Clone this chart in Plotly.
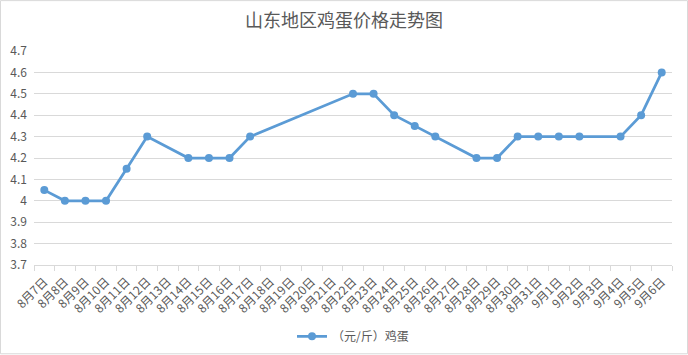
import plotly.graph_objects as go

categories = ["8月7日", "8月8日", "8月9日", "8月10日", "8月11日", "8月12日", "8月13日", "8月14日",
              "8月15日", "8月16日", "8月17日", "8月18日", "8月19日", "8月20日", "8月21日", "8月22日",
              "8月23日", "8月24日", "8月25日", "8月26日", "8月27日", "8月28日", "8月29日", "8月30日",
              "8月31日", "9月1日", "9月2日", "9月3日", "9月4日", "9月5日", "9月6日"]
prices = [4.05, 4.0, 4.0, 4.0, 4.15, 4.3, None, 4.2,
          4.2, 4.2, 4.3, None, None, None, None, 4.5,
          4.5, 4.4, 4.35, 4.3, None, 4.2, 4.2, 4.3,
          4.3, 4.3, 4.3, None, 4.3, 4.4, 4.6]
series_name = "（元/斤）鸡蛋"
title = "山东地区鸡蛋价格走势图"

W, H = 688, 355
L, R, T, B = 34, 16, 51, 89.5
pw, ph = W - L - R, H - T - B

FONT = "Noto Sans CJK SC"
GRAY = "#595959"
BLUE = "#5B9BD5"

fig = go.Figure()
fig.add_trace(go.Scatter(
    x=categories, y=prices, name=series_name, mode="lines+markers",
    connectgaps=True,
    line=dict(color=BLUE, width=2.75),
    marker=dict(color=BLUE, size=8, symbol="circle"),
))

fig.update_layout(
    width=W, height=H,
    margin=dict(l=L, r=R, t=T, b=B, autoexpand=False),
    paper_bgcolor="white", plot_bgcolor="white",
    font=dict(family=FONT, color=GRAY, size=12),
    title=dict(text=title, x=0.5, xanchor="center", y=1 - 21 / H, yanchor="middle",
               font=dict(size=18, color=GRAY, family=FONT)),
    showlegend=True,
    legend=dict(orientation="h", x=0.5, xanchor="center", y=-(337 - T - ph) / ph,
                yanchor="middle", font=dict(size=12, color=GRAY)),
    xaxis=dict(
        type="category", tickangle=-45, showgrid=False, automargin=False,
        showline=True, linecolor="#D9D9D9", linewidth=1,
        ticks="outside", tickson="boundaries", ticklen=5, tickcolor="#D9D9D9",
        tickfont=dict(size=12, color=GRAY), range=[-0.5, len(categories) - 0.5],
        ticklabelstandoff=4,
    ),
    yaxis=dict(
        range=[3.7, 4.7], dtick=0.1, tick0=3.7, showgrid=True, gridcolor="#D9D9D9",
        gridwidth=1, zeroline=False, showline=False, ticks="", automargin=False,
        tickfont=dict(size=12, color=GRAY), ticklabelstandoff=6,
        tickformat="~g",
    ),
    shapes=[dict(type="rect", xref="paper", yref="paper",
                 x0=-(L - 0.5) / pw, x1=1 + (R - 0.5) / pw,
                 y0=-(B - 0.5) / ph, y1=1 + (T - 0.5) / ph,
                 line=dict(color="#D9D9D9", width=1), layer="below")],
)

fig.write_html("out.html")
